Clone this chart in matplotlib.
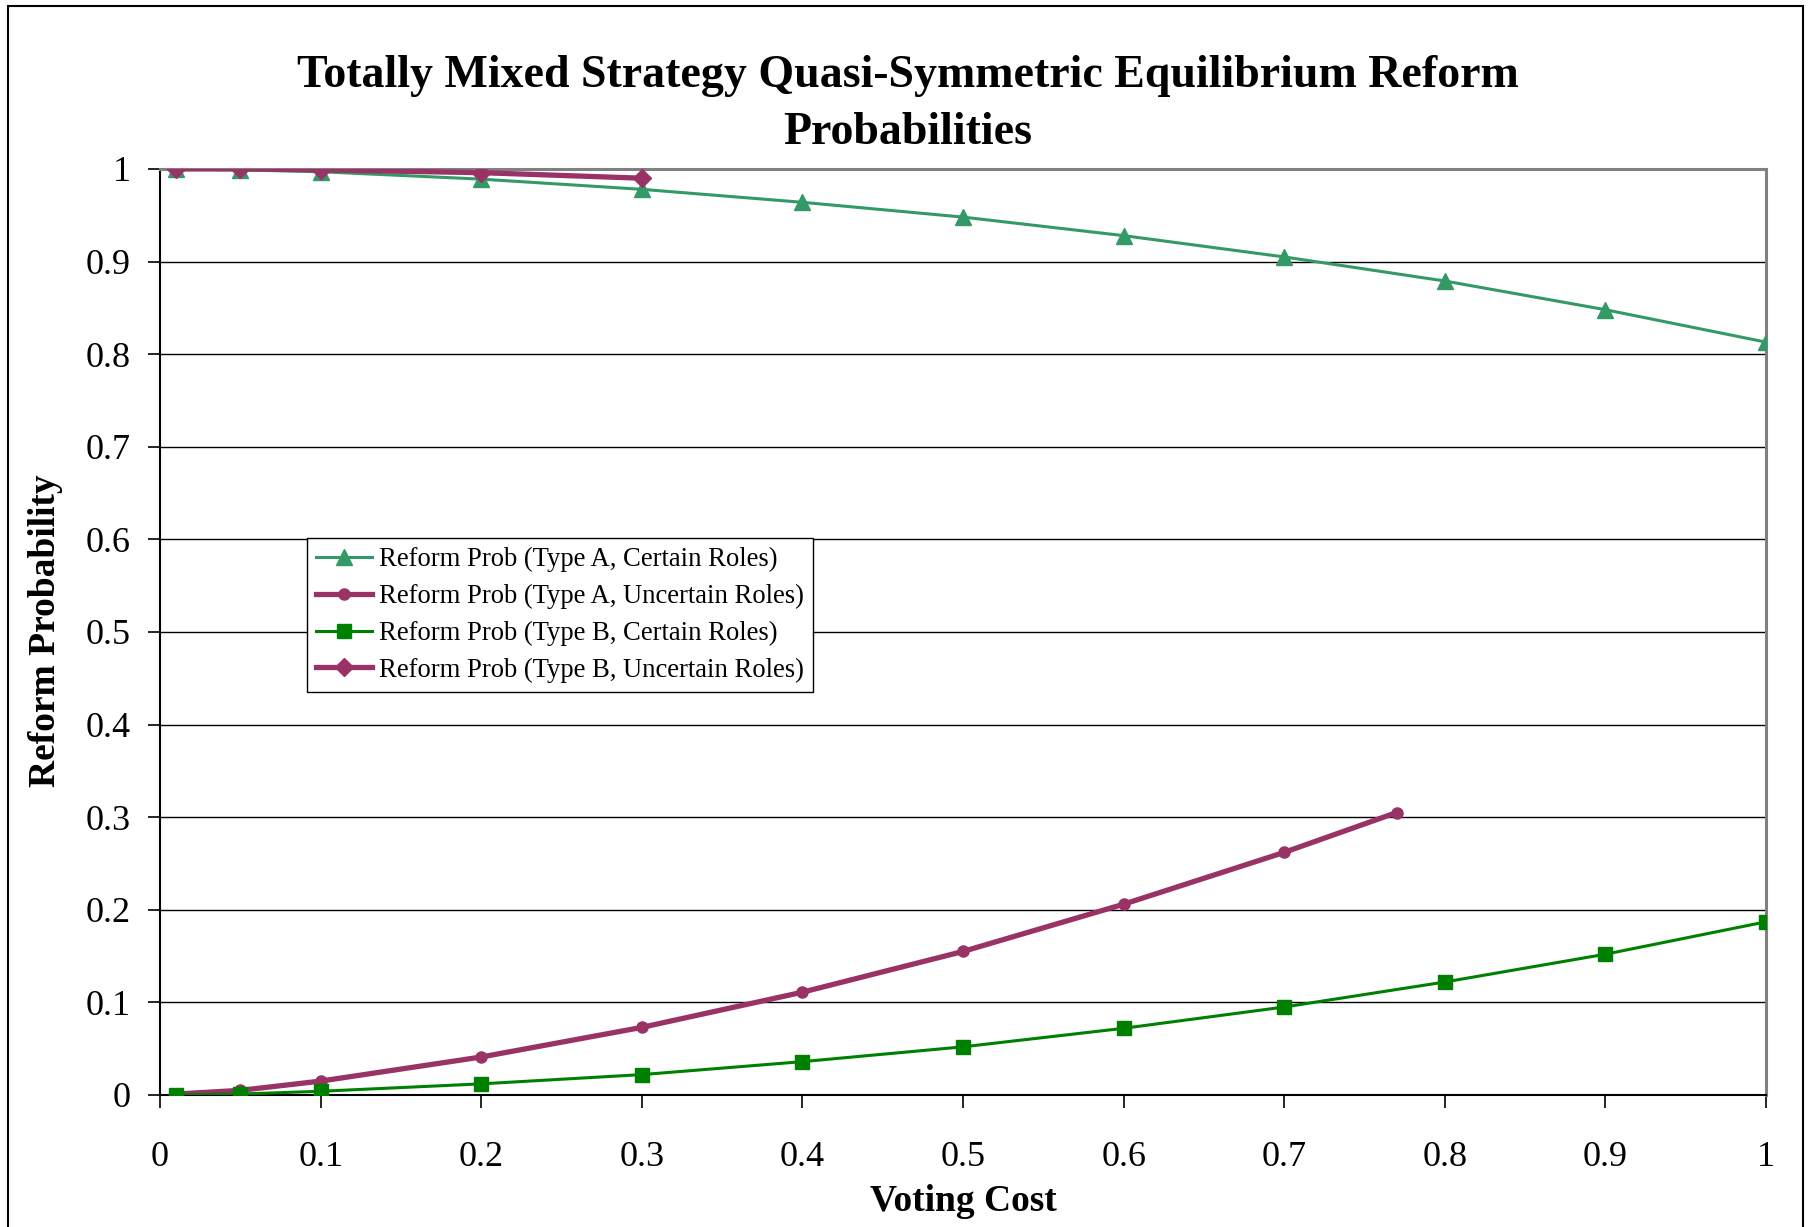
import matplotlib
matplotlib.use("Agg")
import matplotlib.pyplot as plt
from matplotlib.patches import Rectangle

plt.rcParams['font.family'] = ['Liberation Serif', 'DejaVu Serif']

# voting cost values
x_a_cert = [0.01, 0.05, 0.1, 0.2, 0.3, 0.4, 0.5, 0.6, 0.7, 0.8, 0.9, 1.0]
y_a_cert = [1.0, 0.999, 0.997, 0.989, 0.978, 0.964, 0.948, 0.928, 0.905, 0.879, 0.848, 0.813]

x_a_unc = [0.01, 0.05, 0.1, 0.2, 0.3, 0.4, 0.5, 0.6, 0.7, 0.77]
y_a_unc = [0.001, 0.005, 0.015, 0.041, 0.073, 0.111, 0.155, 0.206, 0.262, 0.305]

x_b_cert = [0.01, 0.05, 0.1, 0.2, 0.3, 0.4, 0.5, 0.6, 0.7, 0.8, 0.9, 1.0]
y_b_cert = [0.0, 0.001, 0.004, 0.012, 0.022, 0.036, 0.052, 0.072, 0.095, 0.122, 0.152, 0.187]

x_b_unc = [0.01, 0.05, 0.1, 0.2, 0.3]
y_b_unc = [1.0, 1.0, 0.999, 0.996, 0.99]

labels = ['Reform Prob (Type A, Certain Roles)',
          'Reform Prob (Type A, Uncertain Roles)',
          'Reform Prob (Type B, Certain Roles)',
          'Reform Prob (Type B, Uncertain Roles)']

ticks = [0, 0.1, 0.2, 0.3, 0.4, 0.5, 0.6, 0.7, 0.8, 0.9, 1]
tick_labels = ['0', '0.1', '0.2', '0.3', '0.4', '0.5', '0.6', '0.7', '0.8', '0.9', '1']

teal = '#339966'
plum = '#993366'
green = '#008000'

fig = plt.figure(figsize=(18.15, 12.27), dpi=100)
ax = fig.add_axes([0.0882, 0.1076, 0.8848, 0.7547])

ax.plot(x_a_cert, y_a_cert, color=teal, lw=2.2, marker='^', ms=11.5, label=labels[0], zorder=3)
ax.plot(x_a_unc, y_a_unc, color=plum, lw=3.8, marker='o', ms=8, label=labels[1], zorder=3)
ax.plot(x_b_cert, y_b_cert, color=green, lw=2.2, marker='s', ms=10.5, label=labels[2], zorder=3)
ax.plot(x_b_unc, y_b_unc, color=plum, lw=3.8, marker='D', ms=9, label=labels[3], zorder=4)

ax.set_xlim(0, 1)
ax.set_ylim(0, 1)
ax.set_xticks(ticks)
ax.set_xticklabels(tick_labels)
ax.set_yticks(ticks)
ax.set_yticklabels(tick_labels)
ax.tick_params(axis='both', direction='out', length=9, width=1.2, labelsize=26, pad=12)
ax.tick_params(axis='x', pad=24)
ax.yaxis.grid(True, color='black', lw=1.0)
ax.set_axisbelow(True)
for s in ['top', 'right']:
    ax.spines[s].set_color('#808080')
    ax.spines[s].set_linewidth(2.2)
for s in ['left', 'bottom']:
    ax.spines[s].set_color('black')
    ax.spines[s].set_linewidth(1.5)

leg = ax.legend(loc='lower left', bbox_to_anchor=(0.0913, 0.435), fontsize=19.2,
                frameon=True, fancybox=False, edgecolor='black', framealpha=1,
                handlelength=2.1, handletextpad=0.25, borderpad=0.35, labelspacing=0.44,
                borderaxespad=0)
leg.get_frame().set_linewidth(1.0)

fig.text(0.5, 0.915, 'Totally Mixed Strategy Quasi-Symmetric Equilibrium Reform\nProbabilities',
         ha='center', va='center', fontsize=33, fontweight='bold', linespacing=1.47)
fig.text(0.5306, 0.021, 'Voting Cost', ha='center', va='center', fontsize=27, fontweight='bold')
fig.text(0.0253, 0.486, 'Reform Probability', ha='center', va='center', rotation=90,
         fontsize=27, fontweight='bold')

# outer chart border
fig.patches.append(Rectangle((8 / 1815, -0.05), (1803 - 8) / 1815, 0.05 + 1221 / 1227,
                             transform=fig.transFigure, fill=False, edgecolor='black', lw=1.5))

fig.savefig('out.png', dpi=100)
